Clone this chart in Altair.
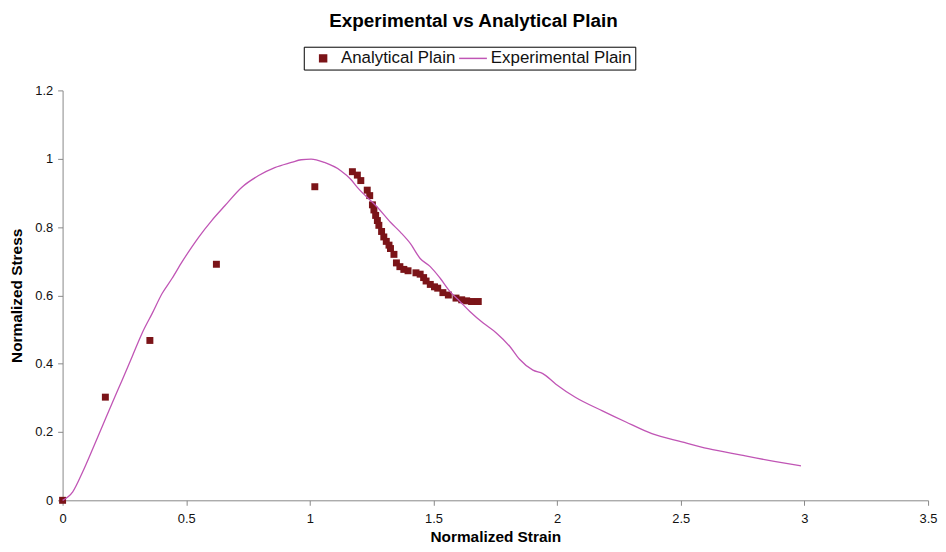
import altair as alt
import pandas as pd

# Analytical Plain (scatter)
ana_strain = [0.0, 0.173, 0.353, 0.622, 1.02, 1.172, 1.192, 1.206, 1.232, 1.242, 1.253, 1.259,
              1.266, 1.273, 1.279, 1.290, 1.299, 1.309, 1.320, 1.326, 1.340, 1.350, 1.364,
              1.380, 1.397, 1.429, 1.446, 1.460, 1.470, 1.487, 1.504, 1.517, 1.538, 1.560,
              1.591, 1.614, 1.634, 1.654, 1.681]
ana_stress = [0.0, 0.302, 0.468, 0.691, 0.918, 0.962, 0.952, 0.936, 0.908, 0.892, 0.865, 0.850,
              0.834, 0.819, 0.805, 0.787, 0.771, 0.758, 0.747, 0.737, 0.720, 0.695, 0.684,
              0.676, 0.672, 0.666, 0.662, 0.652, 0.642, 0.632, 0.625, 0.621, 0.608, 0.601,
              0.592, 0.587, 0.584, 0.582, 0.582]

# Experimental Plain (line)
exp_strain = [0.0, 0.041, 0.081, 0.122, 0.162, 0.202, 0.242, 0.282, 0.322, 0.363, 0.403, 0.443,
              0.483, 0.523, 0.550, 0.603, 0.657, 0.724, 0.791, 0.858, 0.925, 0.965, 1.005,
              1.059, 1.125, 1.165, 1.192, 1.273, 1.326, 1.366, 1.406, 1.446, 1.487, 1.527,
              1.567, 1.607, 1.647, 1.701, 1.754, 1.808, 1.848, 1.902, 1.942, 1.995, 2.075,
              2.183, 2.276, 2.383, 2.504, 2.611, 2.745, 2.878, 2.986]
exp_stress = [0.0, 0.025, 0.083, 0.151, 0.219, 0.287, 0.354, 0.422, 0.490, 0.548, 0.606, 0.650,
              0.698, 0.742, 0.770, 0.819, 0.863, 0.916, 0.950, 0.974, 0.989, 0.997, 0.999,
              0.989, 0.965, 0.940, 0.916, 0.858, 0.814, 0.785, 0.752, 0.708, 0.684, 0.650,
              0.611, 0.582, 0.553, 0.519, 0.490, 0.451, 0.413, 0.381, 0.371, 0.340, 0.301,
              0.262, 0.230, 0.195, 0.171, 0.151, 0.132, 0.114, 0.101]

series_names = ["Analytical Plain", "Experimental Plain"]
series_colors = ["#7B1418", "#C055B5"]
x_ticks = [0, 0.5, 1, 1.5, 2, 2.5, 3, 3.5]
y_ticks = [0, 0.2, 0.4, 0.6, 0.8, 1, 1.2]

df_a = pd.DataFrame({"strain": ana_strain, "stress": ana_stress, "series": series_names[0]})
df_e = pd.DataFrame({"strain": exp_strain, "stress": exp_stress, "series": series_names[1],
                     "order": list(range(len(exp_strain)))})

font = "Liberation Sans"

xscale = alt.Scale(domain=[0, 3.5], nice=False, zero=True)
yscale = alt.Scale(domain=[0, 1.2], nice=False, zero=True)
xaxis = alt.Axis(title="Normalized Strain", values=x_ticks, format="~g",
                 grid=False, tickSize=5, labelPadding=7, titlePadding=4,
                 labelFlush=False)
yaxis = alt.Axis(title="Normalized Stress", values=y_ticks, format="~g",
                 grid=False, tickSize=5, labelPadding=5, titlePadding=10)

cscale = alt.Scale(domain=series_names, range=series_colors)
sscale = alt.Scale(domain=series_names, range=["square", "M-4,0H4"])
legend = alt.Legend(title=None, orient="none", legendX=243, legendY=-44, direction="horizontal",
                    strokeColor="black", padding=3, labelFontSize=17, labelFont=font,
                    labelColor="#111", symbolSize=49, columnPadding=0, labelOffset=9.5,
                    symbolOffset=8, symbolStrokeWidth=1.5, cornerRadius=0)

line = alt.Chart(df_e).mark_line(strokeWidth=1.3, interpolate="monotone").encode(
    x=alt.X("strain:Q", scale=xscale, axis=xaxis),
    y=alt.Y("stress:Q", scale=yscale, axis=yaxis),
    color=alt.Color("series:N", scale=cscale, legend=legend),
    order="order:Q",
)

pts = alt.Chart(df_a).mark_point(filled=True, size=49, opacity=1).encode(
    x=alt.X("strain:Q", scale=xscale, axis=xaxis),
    y=alt.Y("stress:Q", scale=yscale, axis=yaxis),
    color=alt.Color("series:N", scale=cscale, legend=legend),
    shape=alt.Shape("series:N", scale=sscale, legend=legend),
)

chart = alt.layer(pts, line).properties(
    width=872, height=413,
    title=alt.TitleParams("Experimental vs Analytical Plain", fontSize=19, font=font,
                          fontWeight="bold", color="#000", offset=15, anchor="middle",
                          frame="bounds"),
    padding={"left": 55, "top": 81, "right": 10, "bottom": 42},
    autosize=alt.AutoSizeParams(type="none"),
).configure_view(stroke=None).configure_axis(
    domainColor="#888", tickColor="#888", labelFont=font, labelFontSize=13,
    labelColor="#111", titleFont=font, titleFontSize=15.5, titleFontWeight="bold",
    titleColor="#000"
)

chart.save("out.html", embed_options={"renderer": "svg", "actions": False})
